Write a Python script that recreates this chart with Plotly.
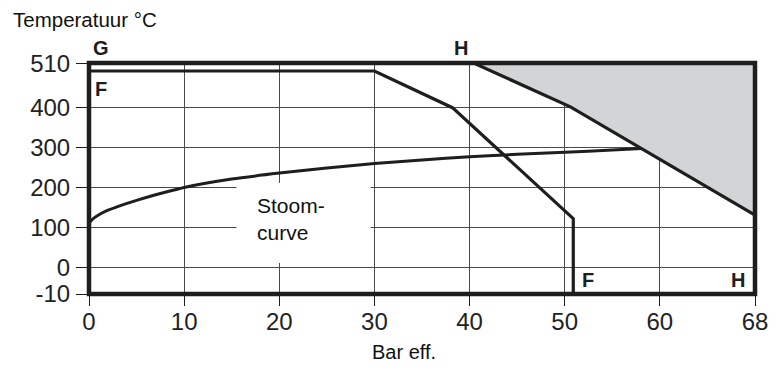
import plotly.graph_objects as go

# ---- data (pressure in bar eff., temperature in °C) ----
x_tick_labels = ["0", "10", "20", "30", "40", "50", "60", "68"]
x_tick_bars = [0, 10, 20, 30, 40, 50, 60, 68]
y_tick_labels = ["-10", "0", "100", "200", "300", "400", "510"]
y_tick_temps = [-10, 0, 100, 200, 300, 400, 510]

# boundary line F
f_bar = [0, 30, 38.2, 50.9, 50.9]
f_temp = [492, 492, 400, 122, -10]

# boundary line H
h_bar = [40.6, 50.6, 68]
h_temp = [510, 402, 131]

# steam (saturation) curve
steam_bar = [0, 0.3, 1, 2, 3, 4.5, 6, 8, 10, 15, 20, 25, 30, 35, 40, 45, 50, 55, 58.1]
steam_temp = [110, 119, 131, 143, 152, 164, 175, 188, 200, 221, 236, 249, 260, 269, 277, 283, 288, 294, 298]


# ---- axis mapping: the last x segment (60-68) and the lowest y segment (0 to -10)
# are drawn stretched, like the printed chart ----
def xp(b):
    return b if b <= 60 else 60 + (b - 60) * 1.25


def yp(t):
    return t if t >= 0 else t * 6.7


def xs(vals):
    return [xp(v) for v in vals]


def ys(vals):
    return [yp(v) for v in vals]


# plot area geometry in pixels, used for the labels placed outside the axes
W, H = 780, 370
ML, MR, MT, MB = 89, 23, 63, 76
PW, PH = W - ML - MR, H - MT - MB


def px_x(px):
    return (px - ML) / PW


def px_y(py):
    return (H - MB - py) / PH


DARK = "#1e1e1e"
GRID = "#4a4a4a"
FONT = "Liberation Sans, Arial, sans-serif"

fig = go.Figure()

# shaded region above line H
fig.add_trace(go.Scatter(
    x=xs(h_bar + [68, h_bar[0]]),
    y=ys(h_temp + [510, h_temp[0]]),
    fill="toself", fillcolor="#d3d4d6",
    mode="none", hoverinfo="skip", showlegend=False,
))

# steam curve
fig.add_trace(go.Scatter(
    x=xs(steam_bar), y=ys(steam_temp), mode="lines",
    line=dict(color=DARK, width=3, shape="spline", smoothing=0.5),
    showlegend=False, hoverinfo="skip",
))

# line F
fig.add_trace(go.Scatter(
    x=xs(f_bar), y=ys(f_temp), mode="lines",
    line=dict(color=DARK, width=3.2), showlegend=False, hoverinfo="skip",
))

# line H
fig.add_trace(go.Scatter(
    x=xs(h_bar), y=ys(h_temp), mode="lines",
    line=dict(color=DARK, width=3.2), showlegend=False, hoverinfo="skip",
))

# white label box behind the "Stoom-curve" text (covers the grid only)
fig.add_shape(type="rect", x0=15.5, x1=29.6, y0=11, y1=211,
              fillcolor="white", line=dict(width=0), layer="between")

# heavy frame round the plot area
fig.add_shape(type="rect", xref="paper", yref="paper", x0=0, x1=1, y0=0, y1=1,
              line=dict(color=DARK, width=4.5), fillcolor="rgba(0,0,0,0)", layer="above")

letter_font = dict(family=FONT, size=20, color=DARK)
fig.add_annotation(xref="paper", yref="paper", x=px_x(101.5), y=px_y(48),
                   text="<b>G</b>", showarrow=False, font=letter_font,
                   xanchor="center", yanchor="middle")
fig.add_annotation(xref="paper", yref="paper", x=px_x(462.5), y=px_y(48),
                   text="<b>H</b>", showarrow=False, font=letter_font,
                   xanchor="center", yanchor="middle")
fig.add_annotation(x=xp(1.3), y=yp(448), text="<b>F</b>", showarrow=False, font=letter_font)
fig.add_annotation(x=xp(52.4), y=yp(-4.7), text="<b>F</b>", showarrow=False, font=letter_font)
fig.add_annotation(x=xp(66.6), y=yp(-4.7), text="<b>H</b>", showarrow=False, font=letter_font)

fig.add_annotation(x=xp(17.4), y=yp(121), text="Stoom-<br>curve", showarrow=False,
                   xanchor="left", align="left", yanchor="middle",
                   font=dict(family=FONT, size=21, color="#111"))

fig.add_annotation(xref="paper", yref="paper", x=px_x(11), y=px_y(20),
                   text="Temperatuur °C", showarrow=False, xanchor="left",
                   yanchor="middle", font=dict(family=FONT, size=20.5, color="#111"))
fig.add_annotation(xref="paper", yref="paper", x=px_x(404.5), y=px_y(352),
                   text="Bar eff.", showarrow=False, xanchor="center",
                   yanchor="middle", font=dict(family=FONT, size=20, color="#111"))

fig.update_xaxes(
    range=[0, 70], tickvals=xs(x_tick_bars), ticktext=x_tick_labels,
    showgrid=True, gridcolor=GRID, gridwidth=1, zeroline=False,
    showline=False,
    ticks="outside", ticklen=11, tickcolor=DARK, tickwidth=1,
    ticklabelstandoff=-5,
    tickfont=dict(family=FONT, size=24, color="#222"),
)
fig.update_yaxes(
    range=[-67, 512], tickvals=ys(y_tick_temps), ticktext=y_tick_labels,
    showgrid=True, gridcolor=GRID, gridwidth=1, zeroline=False,
    showline=False,
    ticks="outside", ticklen=12, tickcolor=DARK, tickwidth=1,
    ticklabelstandoff=1,
    tickfont=dict(family=FONT, size=24, color="#222"),
)

fig.update_layout(
    width=W, height=H,
    margin=dict(l=ML, r=MR, t=MT, b=MB),
    plot_bgcolor="white", paper_bgcolor="white",
    showlegend=False,
)

fig.write_html("out.html")
